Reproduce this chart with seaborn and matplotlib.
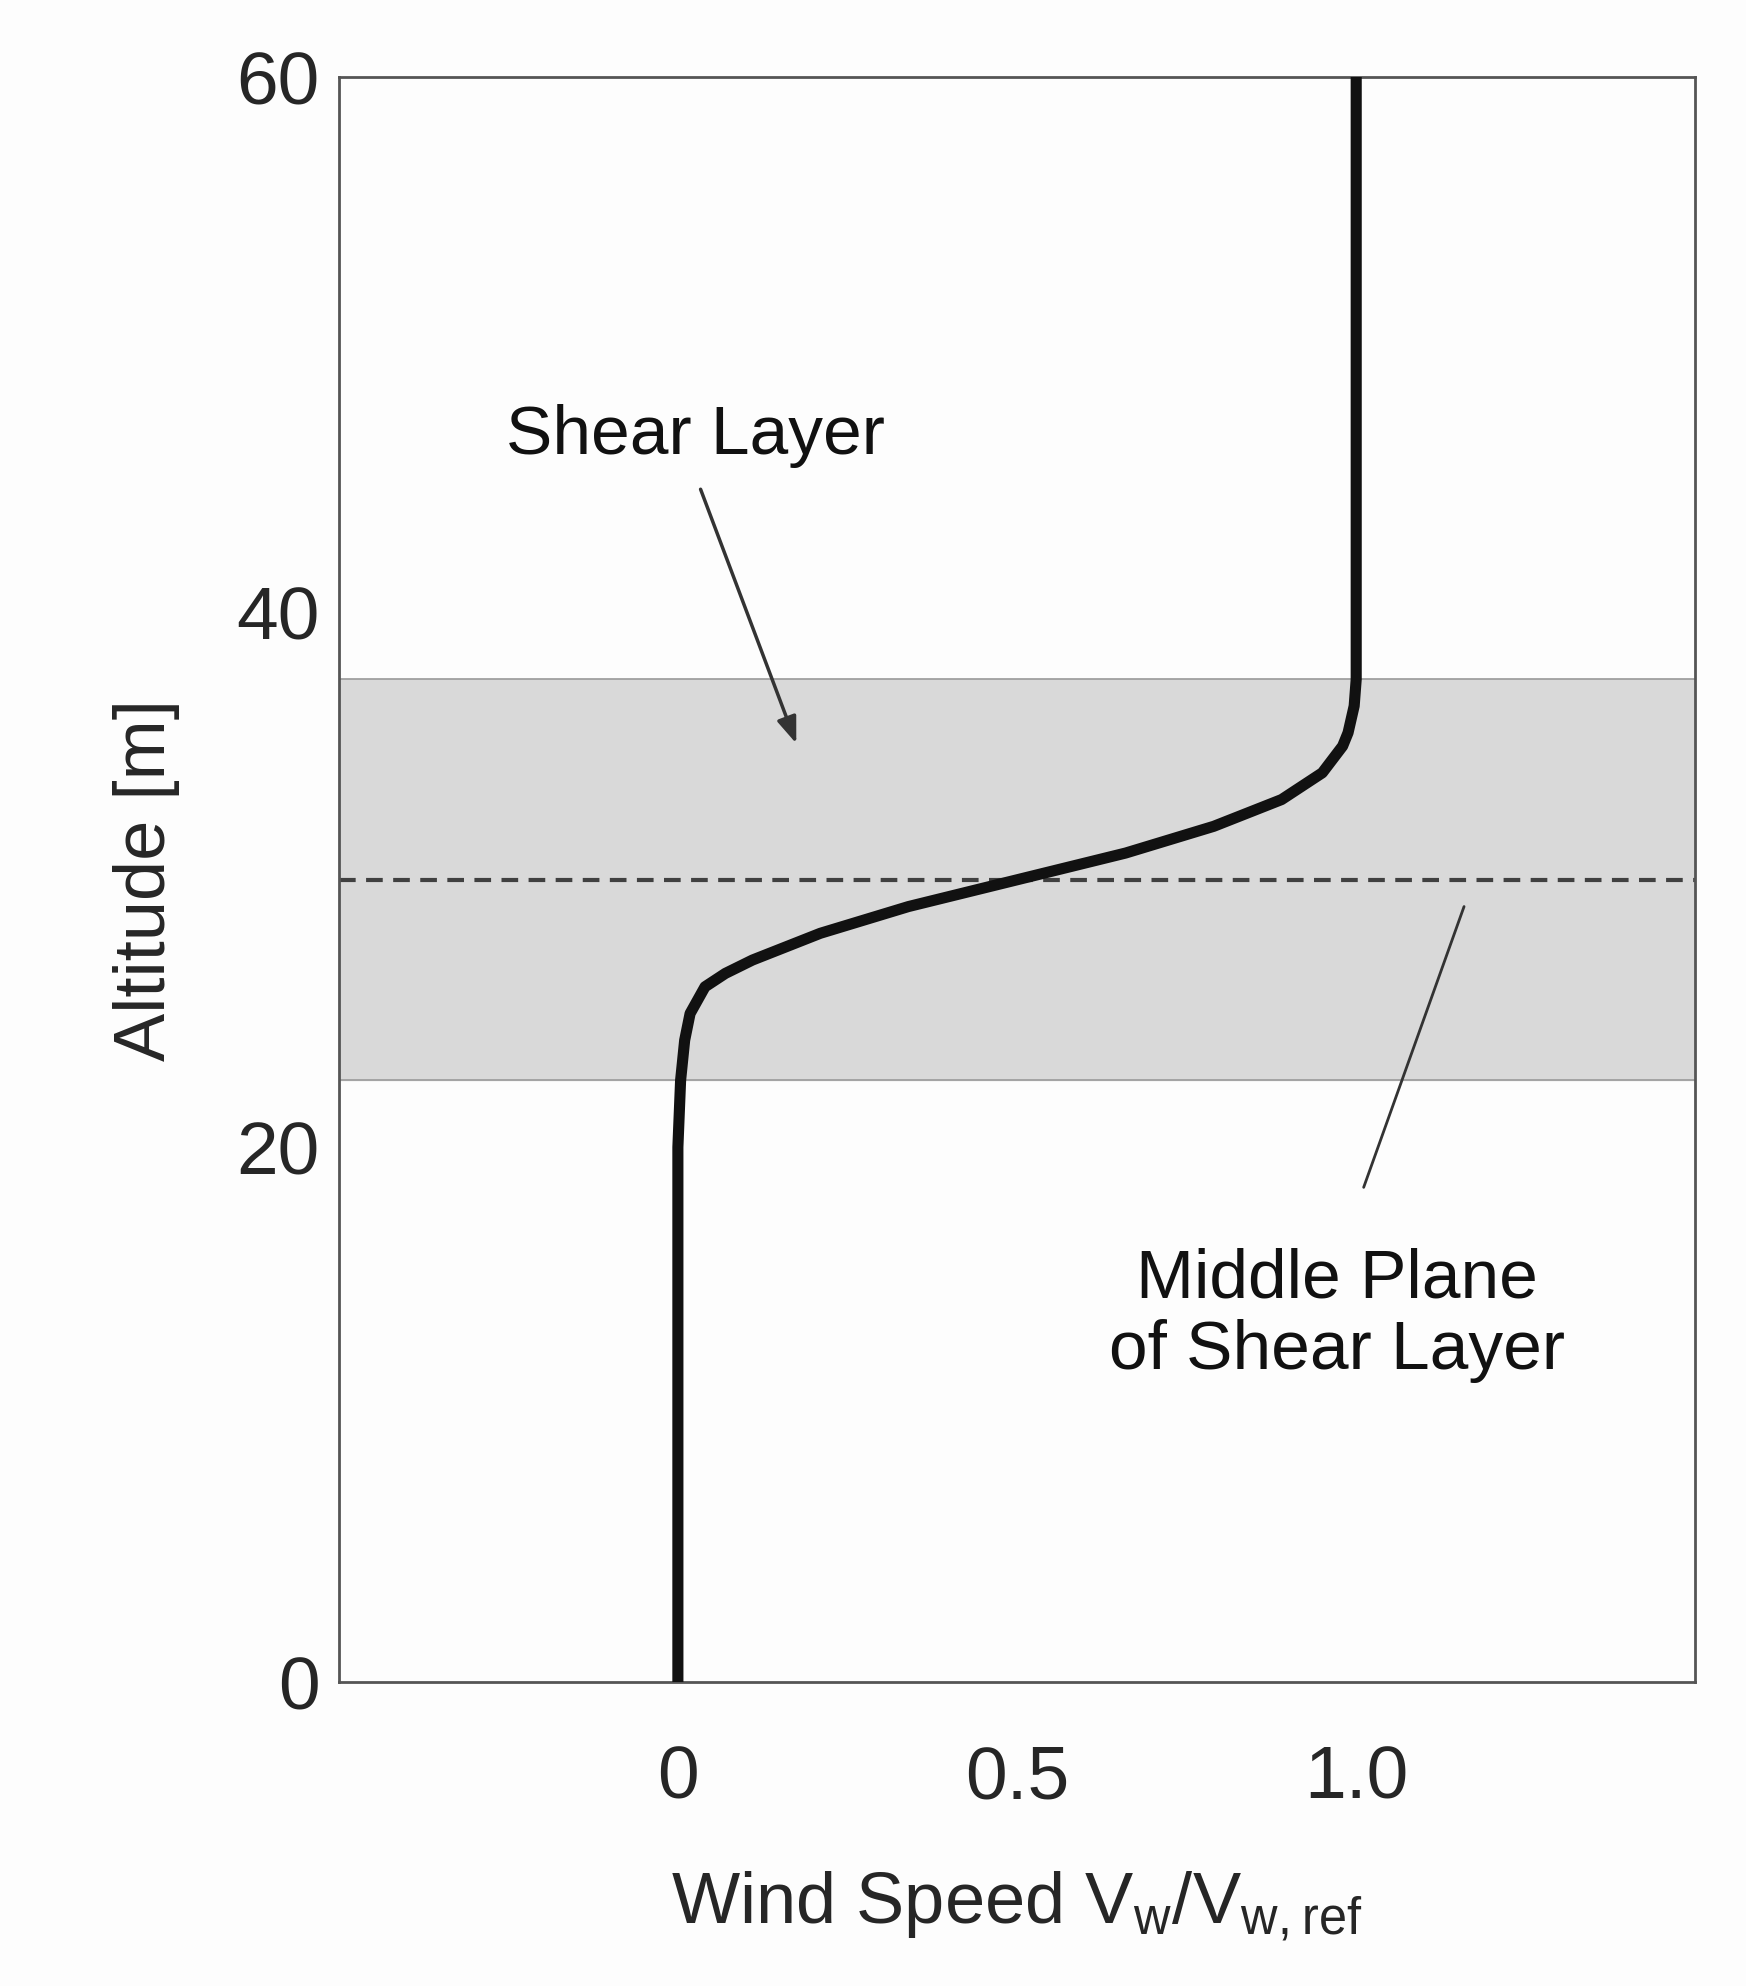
import matplotlib
matplotlib.use("Agg")
import matplotlib.pyplot as plt
import seaborn as sns
import pandas as pd

sns.set_style("white")
plt.rcParams['font.family'] = ['Liberation Sans', 'DejaVu Sans']
plt.rcParams['mathtext.default'] = 'regular'

altitude = [0, 10, 20, 22.5, 24, 25, 26, 26.5, 27, 28, 29, 30, 31, 32, 33, 34, 35, 35.5, 36.5, 37.5, 45, 60]
speed = [0.0, 0.0, 0.0, 0.004, 0.01, 0.018, 0.04, 0.07, 0.11, 0.21, 0.34, 0.5, 0.66, 0.79, 0.89, 0.95, 0.98, 0.988, 0.997, 1.0, 1.0, 1.0]
shear_band = [22.5, 37.5]
mid_plane = 30
df = pd.DataFrame({"alt": altitude, "speed": speed})

fig = plt.figure(figsize=(17.46, 19.86), dpi=100)
fig.patch.set_facecolor("#fdfdfd")
ax = fig.add_axes([0.194, 0.153, 0.777, 0.808])
ax.set_facecolor("#fdfdfd")
ax.axhspan(shear_band[0], shear_band[1], color="#d9d9d9", zorder=0)
for y in shear_band:
    ax.axhline(y, color="#9a9a9a", lw=1.2, zorder=1)
ax.axhline(mid_plane, color="#404040", lw=3, ls=(0, (4, 2.5)), zorder=2)
sns.lineplot(data=df, x="speed", y="alt", sort=False, orient="y", color="#111111", lw=8, ax=ax, zorder=3)

ax.set_xlim(-0.5, 1.5)
ax.set_ylim(0, 60)
ax.set_xticks([0, 0.5, 1.0], ["0", "0.5", "1.0"])
ax.set_yticks([0, 20, 40, 60])
ax.tick_params(axis="y", direction="in", length=14, width=1.5, labelsize=54, pad=14, color="#444444")
ax.tick_params(axis="x", length=0, labelsize=54, pad=45)
for s in ax.spines.values():
    s.set_color("#555555"); s.set_linewidth(2)
ax.set_ylabel("Altitude [m]", fontsize=52, labelpad=40)
ax.set_xlabel(r"Wind Speed V$_{w}$/V$_{w,ref}$", fontsize=52, labelpad=40)

ax.text(0.026, 46.6, "Shear Layer", fontsize=50, ha="center", va="center", color="#111111")
ax.annotate("", xy=(0.176, 35.0), xytext=(0.032, 44.7),
            arrowprops=dict(arrowstyle="-|>,head_length=1.6,head_width=0.6", color="#333333", lw=2.5))
ax.plot([1.159, 1.011], [29.0, 18.5], color="#333333", lw=2)
ax.text(0.972, 13.7, "Middle Plane\nof Shear Layer", fontsize=50, ha="center", va="center",
        color="#111111", linespacing=1.15)
fig.savefig("out.png", dpi=100, facecolor=fig.get_facecolor())
